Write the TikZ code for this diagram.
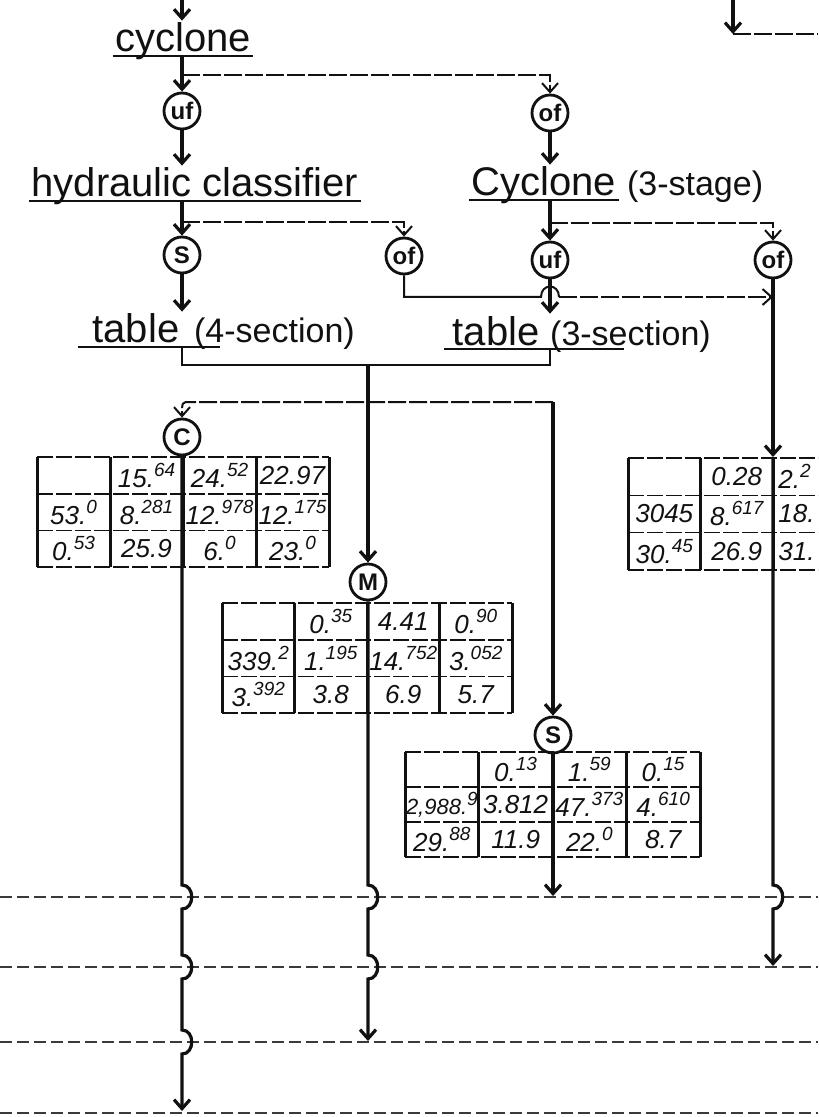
\documentclass[tikz,border=0pt]{standalone}
\usepackage{fontspec}
\setmainfont{Liberation Sans}
\usepackage{tikz}
\usetikzlibrary{positioning,arrows.meta,calc}
\definecolor{ink}     {HTML}{111111}
\definecolor{softink} {HTML}{3A3A3A}
\newcommand\hi[1]{\raisebox{0.42em}{\fontsize{9.5}{10}\selectfont #1}}
\tikzset{
  >={Straight Barb[length=4.5pt,width=8pt]},
  % --- nodes
  lbl/.style    = {font=\fontsize{20}{22}\selectfont, text=ink, inner sep=1pt},
  sublbl/.style = {lbl, font=\fontsize{17}{19}\selectfont},
  smp/.style    = {circle, draw=ink, line width=1.4pt, minimum size=18pt, inner sep=0pt,
                   font=\fontsize{12}{12}\selectfont\bfseries, text=ink},
  cell/.style   = {font=\fontsize{13}{14}\selectfont\itshape, text=ink, inner sep=0pt},
  % --- edges
  trunk/.style  = {line width=1.6pt, draw=ink},
  e/.style      = {trunk, ->},
  ethin/.style  = {line width=1pt, draw=ink},
  edash/.style  = {ethin, dash pattern=on 9pt off 1.5pt},
  proc/.style   = {line width=0.8pt, draw=softink, dash pattern=on 6pt off 2.5pt},
  uline/.style  = {line width=1pt, draw=ink},
  tabv/.style   = {line width=1.5pt, draw=ink},
  tabh/.style   = {line width=0.8pt, draw=ink, dash pattern=on 8pt off 1.5pt},
  hop/.style    = {to path={.. controls +(13,0) and +(13,0) .. (\tikztotarget)}},
}

\begin{document}
\begin{tikzpicture}[x=0.5pt,y=-0.5pt]
  \path[use as bounding box] (0,0) rectangle (818,1117);
  \clip (0,0) rectangle (818,1117);

  \node[lbl,anchor=base] (cy1) at (183,52) {cyclone};
  \node[lbl,anchor=base] (hc) at (195,197) {hydraulic classifier};
  \node[lbl,anchor=base] (cy3) at (544,196) {Cyclone};
  \node[sublbl,anchor=base west] (cy3s) at ([xshift=3pt]cy3.base east) {(3-stage)};
  \node[lbl,anchor=base] (t4) at (136,343) {table};
  \node[sublbl,anchor=base west] (t4s) at ([xshift=5pt]t4.base east) {(4-section)};
  \node[lbl,anchor=base] (t3) at (496,345) {table};
  \node[sublbl,anchor=base west] (t3s) at ([xshift=3pt]t3.base east) {(3-section)};

  \draw[uline] ([yshift=-2pt]cy1.base west) -- ([yshift=-2pt]cy1.base east);
  \draw[uline] ([yshift=-2pt]hc.base west) -- ([yshift=-2pt]hc.base east);
  \draw[uline] ([yshift=-2pt]cy3.base west) -- ([yshift=-2pt]cy3.base east);
  \draw[uline] ([xshift=-6pt,yshift=-2pt]t4.base west) -- ([xshift=14pt,yshift=-2pt]t4s.base west);
  \draw[uline] ([xshift=-3pt,yshift=-2pt]t3.base west) -- ([xshift=38pt,yshift=-2pt]t3s.base west);

  \node[smp] (uf1) at (182,111) {uf};
  \node[smp] (of1) at (550,113) {of};
  \node[smp] (sp1) at (182,255) {S};
  \node[smp] (of2) at (404,256) {of};
  \node[smp] (uf2) at (550,260) {uf};
  \node[smp] (of3) at (773,260) {of};
  \node[smp] (cc) at (182,437) {C};
  \node[smp] (mm) at (368,582) {M};
  \node[smp] (ss) at (553,735) {S};

  \coordinate (in1) at (182,0);
  \coordinate (in2) at (733,0);
  \coordinate (in2e) at (733,34);
  \coordinate (in2r) at (818,34);
  \coordinate (b1) at (182,75);
  \coordinate (b2) at (182,222);
  \coordinate (b3) at (550,223);
  \coordinate (h1a) at (541,297);
  \coordinate (h1b) at (559,297);
  \coordinate (j1) at (773,297);
  \coordinate (m0) at (368,365);
  \coordinate (cs0) at (190,402);
  \coordinate (cs1) at (553,402);
  \coordinate (rt) at (773,457);

  \foreach \py in {897,967,1042,1113}
    \draw[proc] (0,\py) -- (818,\py);

  \foreach \tx/\ty/\cw/\rh in {37/457/73/36.7, 222/603/72.5/36.7, 405/752/73.75/35, 628/458/72.5/37.3}{
    \foreach \i in {0,...,4}
      \draw[tabv] ({\tx+\i*\cw},\ty) -- ++(0,{3*\rh});
    \foreach \j in {0,...,3}
      \draw[tabh] (\tx,{\ty+\j*\rh}) -- ++({4*\cw},0);
  }

  \foreach \v [count=\k] in {15.\hi{64},24.\hi{52},22.97,53.\hi{0},8.\hi{281},12.\hi{978},12.\hi{175},0.\hi{53},25.9,6.\hi{0},23.\hi{0}}
    \node[cell] (C\k) at ({37+73*(mod(\k,4)+0.5)},{457+36.7*(int(\k/4)+0.5)}) {\v};
  \foreach \v [count=\k] in {0.\hi{35},4.41,0.\hi{90},339.\hi{2},1.\hi{195},14.\hi{752},3.\hi{052},3.\hi{392},3.8,6.9,5.7}
    \node[cell] (M\k) at ({222+72.5*(mod(\k,4)+0.5)},{603+36.7*(int(\k/4)+0.5)}) {\v};
  \foreach \v [count=\k] in {0.\hi{13},1.\hi{59},0.\hi{15},{\fontsize{11}{12}\selectfont 2,988.\hi{9}},3.812,47.\hi{373},4.\hi{610},29.\hi{88},11.9,22.\hi{0},8.7}
    \node[cell] (S\k) at ({405+73.75*(mod(\k,4)+0.5)},{752+35*(int(\k/4)+0.5)}) {\v};
  \foreach \c/\r/\v [count=\k] in {1/0/0.28, 0/1/3045, 1/1/8.\hi{617}, 0/2/30.\hi{45}, 1/2/26.9}
    \node[cell] (R\k) at ({628+72.5*(\c+0.5)},{458+37.3*(\r+0.5)}) {\v};
  \foreach \v [count=\k] in {2.\hi{2},18.,31.}
    \node[cell,anchor=west] (Rc\k) at (778,{458+37.3*(\k-0.5)}) {\v};

  \draw[e] (in1) -- (cy1.north -| in1);
  \draw[e] (in2) -- (in2e);
  \draw[edash] (in2e) -- (in2r);
  \draw[e] ([yshift=-2pt]cy1.base -| uf1) -- (uf1);
  \draw[edash,->] (b1) -| (of1);
  \draw[e] (uf1) -- (uf1 |- hc.north);
  \draw[e] (of1) -- (of1 |- cy3.north);
  \draw[e] ([yshift=-2pt]hc.base -| sp1) -- (sp1);
  \draw[edash,->] (b2) -| (of2);
  \draw[e] ([yshift=-2pt]cy3.base -| uf2) -- (uf2);
  \draw[edash,->] (b3) -| (of3);
  \draw[e] (sp1) -- (sp1 |- t4.north);
  \draw[e] (uf2) -- (uf2 |- t3.north);
  \draw[ethin] (of2) |- (h1a) .. controls +(0,-14) and +(0,-14) .. (h1b);
  \draw[edash,->] (h1b) -- (j1);
  \draw[e] (of3) -- (rt);
  \draw[ethin] ([yshift=-2pt]t4.base -| sp1) |- (m0) -| ([yshift=-2pt]t3.base -| uf2);
  \draw[e] (m0) -- (mm);
  \draw[edash,->] (cs1) -- (cs0) .. controls (182,402) .. (cc);
  \draw[e] (cs1) -- (ss);
  \draw[e] (cc) -- (182,885) to[hop] (182,909) -- (182,955) to[hop] (182,979) -- (182,1030) to[hop] (182,1054) -- (182,1111);
  \draw[e] (mm) -- (368,885) to[hop] (368,909) -- (368,955) to[hop] (368,979) -- (368,1041);
  \draw[e] (ss) -- (553,896);
  \draw[e] (rt) -- (773,885) to[hop] (773,909) -- (773,966);
\end{tikzpicture}
\end{document}
